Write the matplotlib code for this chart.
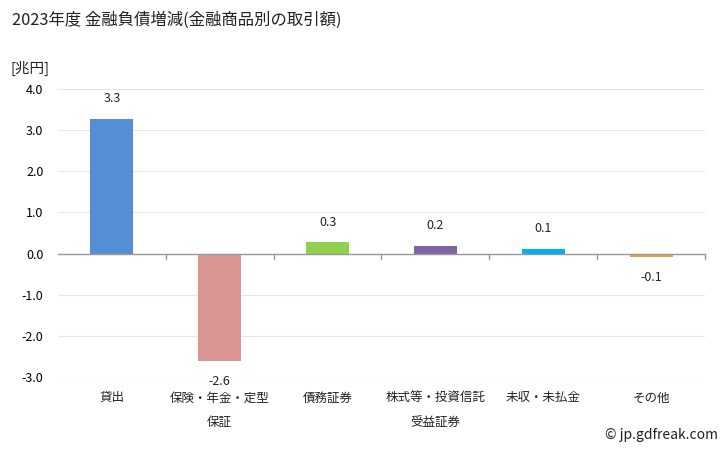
import matplotlib
matplotlib.use("Agg")
import matplotlib.pyplot as plt

plt.rcParams['font.family'] = ['Noto Sans CJK JP', 'DejaVu Sans']

categories = ["貸出", "保険・年金・定型\n保証", "債務証券", "株式等・投資信託\n受益証券", "未収・未払金", "その他"]
values = [3.27, -2.61, 0.27, 0.19, 0.12, -0.08]
colors = ["#558ed5", "#d99694", "#92d050", "#8064a2", "#00b0f0", "#f79646"]
yticks = [4.0, 3.0, 2.0, 1.0, 0.0, -1.0, -2.0, -3.0]

fig = plt.figure(figsize=(7.28, 4.5), dpi=100)
ax = fig.add_axes([58/728, 73/450, (705-58)/728, (377-89)/450])

x = list(range(len(categories)))
ax.bar(x, values, width=0.4, color=colors, zorder=3)
for xi, v in zip(x, values):
    if v >= 0:
        ax.annotate(f"{v:.1f}", (xi, v), xytext=(0, 10), textcoords="offset points",
                    ha="center", va="bottom", fontsize=9, color="#222222")
    else:
        ax.annotate(f"{v:.1f}", (xi, v), xytext=(0, -10), textcoords="offset points",
                    ha="center", va="top", fontsize=9, color="#222222")

ax.set_xlim(-0.5, len(categories) - 0.5)
ax.set_ylim(-3.0, 4.0)
ax.set_yticks(yticks)
ax.set_yticklabels([f"{t:.1f}" for t in yticks], fontsize=9)
ax.tick_params(axis="y", length=0, pad=10.5)
ax.grid(axis="y", color="#e6e6e6", linewidth=0.8, zorder=0)
for s in ax.spines.values():
    s.set_visible(False)

ax.set_xticks([])
ax.axhline(0, color="#999999", linewidth=1, zorder=4)
for b in range(1, len(categories) + 1):
    ax.plot([b - 0.5, b - 0.5], [0, -0.12], color="#999999", linewidth=1, zorder=4, clip_on=False)

for xi, c in zip(x, categories):
    ax.text(xi, -3.35, c, ha="center", va="top", fontsize=9, linespacing=2.2,
            transform=ax.transData, color="#222222")

fig.text(12/728, 1 - 20/450, "2023年度 金融負債増減(金融商品別の取引額)", fontsize=11.8, va="center", ha="left", color="#222222")
fig.text(10/728, 1 - 68/450, "[兆円]", fontsize=10.5, va="center", ha="left", color="#222222")
fig.text(718/728, 1 - 435/450, "© jp.gdfreak.com", fontsize=10, va="center", ha="right", color="#222222")

fig.savefig("out.png", dpi=100)
